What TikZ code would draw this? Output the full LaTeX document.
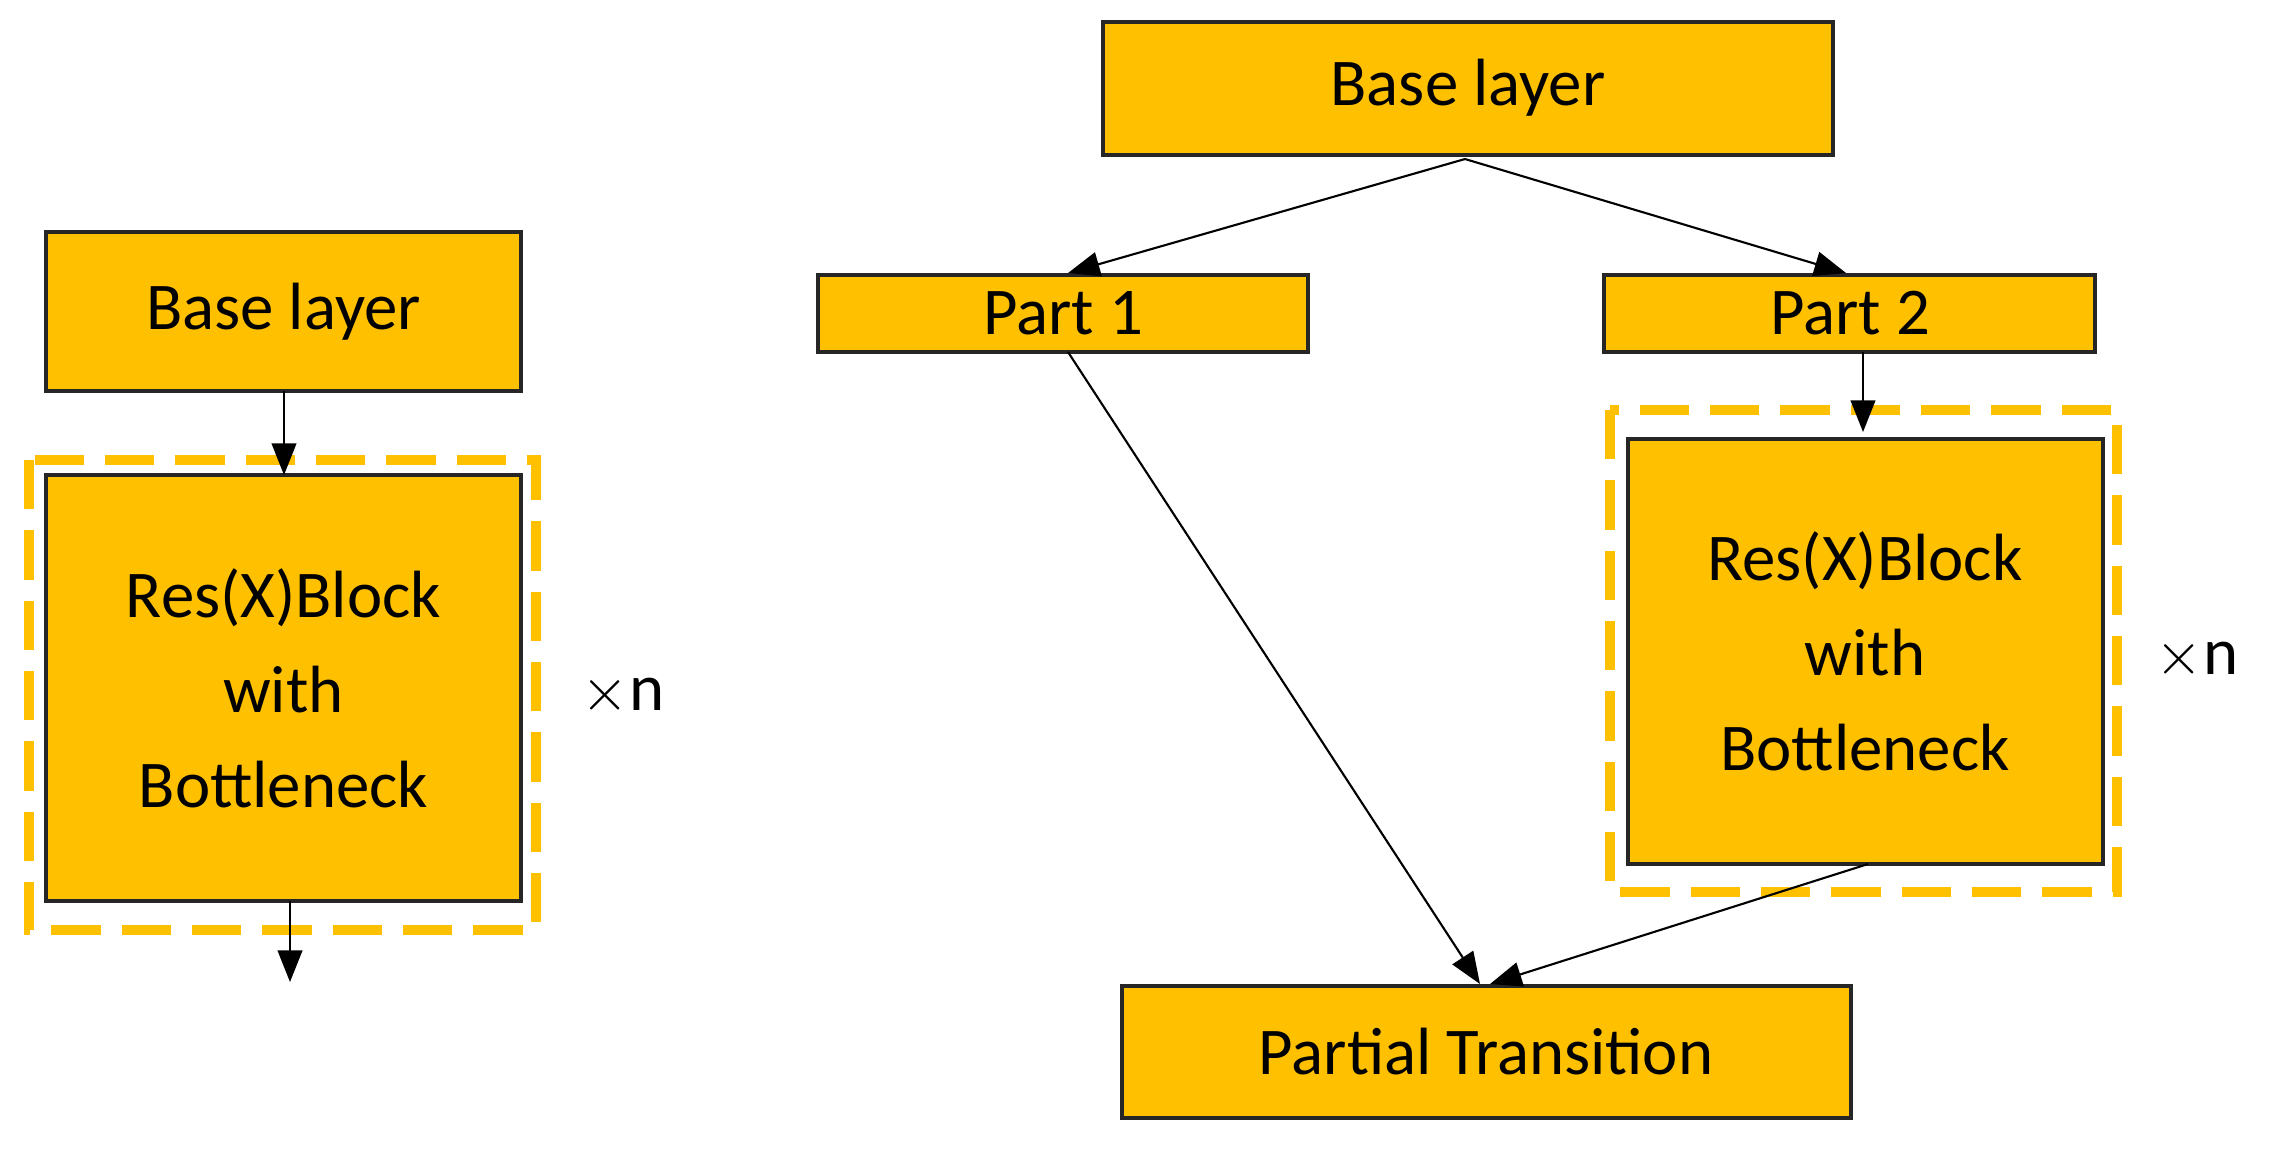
\documentclass[tikz,border=0pt]{standalone}
\usepackage{fontspec}
\setmainfont{Carlito}
\usetikzlibrary{arrows.meta}
\definecolor{boxfill}{HTML}{FFC000}
\begin{document}
\begin{tikzpicture}[x=0.01cm,y=-0.01cm,
  box/.style={draw=black!85,line width=1.2pt,fill=boxfill},
  lbl/.style={font=\fontsize{19}{27}\selectfont,align=center},
  dashbox/.style={draw=boxfill,line width=3pt,dash pattern=on 14pt off 6pt},
  arr/.style={-{Triangle[length=9pt,width=7pt]},line width=0.6pt,black}]
\useasboundingbox (0,0) rectangle (2270,1150);
% left
\draw[dashbox] (29,460) rectangle (536,930);
\path[box] (46,232) rectangle (521,391);
\node[lbl] (lbt) at (283.5,311.5) {Base layer};
\path[box] (46,475) rectangle (521,901);
\node[lbl] (lr) at (283.5,688) {Res(X)Block\\with\\Bottleneck};
\coordinate (lbB) at (284,391);
\coordinate (lrT) at (284,475);
\coordinate (lrB) at (290,901);
\coordinate (lend) at (290,982);
\draw[arr] (lbB) -- (lrT);
\draw[arr] (lrB) -- (lend);
\node[lbl] (xn1) at (623,695) {$\times$n};
% right
\path[box] (1103,22) rectangle (1833,155);
\node[lbl] (tb) at (1468,88) {Base layer};
\path[box] (818,275) rectangle (1308,352);
\node[lbl] (p1) at (1063,313) {Part 1};
\path[box] (1604,275) rectangle (2095,352);
\node[lbl] (p2) at (1850,313) {Part 2};
\draw[dashbox] (1610,410) rectangle (2117,892);
\path[box] (1628,439) rectangle (2103,864);
\node[lbl] (rr) at (1865,651) {Res(X)Block\\with\\Bottleneck};
\node[lbl] (xn2) at (2197,659) {$\times$n};
\path[box] (1122,986) rectangle (1851,1118);
\node[lbl] (pt) at (1486,1052) {Partial Transition};
\coordinate (tbB) at (1465,159);
\coordinate (p1T) at (1068,273);
\coordinate (p2T) at (1846,273);
\coordinate (p1B) at (1068,352);
\coordinate (p2B) at (1863,352);
\coordinate (rrT) at (1863,432);
\coordinate (rrB) at (1868,864);
\coordinate (ptT1) at (1480,984);
\coordinate (ptT2) at (1490,984);
\draw[arr] (tbB) -- (p1T);
\draw[arr] (tbB) -- (p2T);
\draw[arr] (p1B) -- (ptT1);
\draw[arr] (p2B) -- (rrT);
\draw[arr] (rrB) -- (ptT2);
\end{tikzpicture}
\end{document}
